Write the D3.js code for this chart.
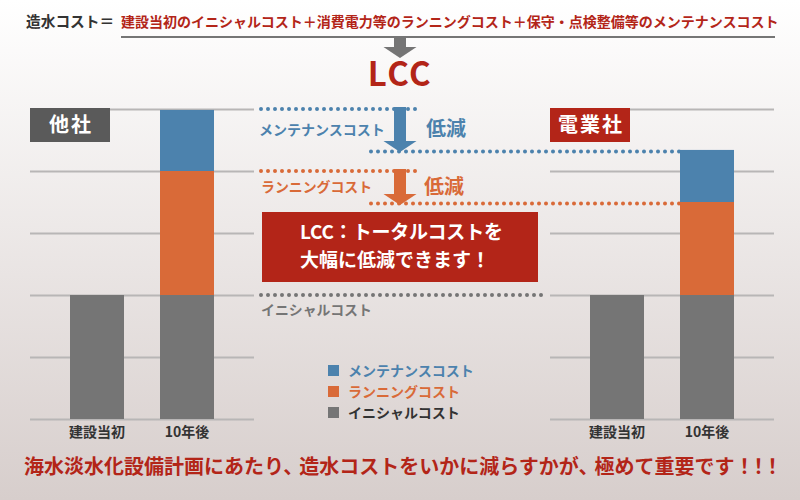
<!DOCTYPE html>
<html lang="ja"><head><meta charset="utf-8">
<script src="https://cdn.jsdelivr.net/npm/d3@7/dist/d3.min.js"></script>
<style>
html,body{margin:0;padding:0;background:#fff}
svg{display:block}
text{font-family:"Noto Sans CJK JP","Noto Sans",sans-serif;font-weight:700}
</style></head><body><svg id="c" width="800" height="500"></svg>
<script>
const categories = ["建設当初","10年後"];
const seriesNames = ["イニシャルコスト","ランニングコスト","メンテナンスコスト"];
const initialOther = [40,40];
const runningOther = [0,40];
const maintOther = [0,19.7];
const initialOurs = [40,40];
const runningOurs = [0,30];
const maintOurs = [0,16.8];
const yTicks = [0,20,40,60,80,100];
const seriesColors = ["#757575","#d96a38","#4c82ad"];
const RED = "#b32518";

const svg = d3.select("#c");
const defs = svg.append("defs");
const g = defs.append("linearGradient").attr("id","bg").attr("x1",0).attr("x2",0).attr("y1",0).attr("y2",1);
g.append("stop").attr("offset",0).attr("stop-color","#ffffff");
g.append("stop").attr("offset",1).attr("stop-color","#d7cecc");
svg.append("rect").attr("width",800).attr("height",500).attr("fill","url(#bg)");

const y = d3.scaleLinear().domain([0,100]).range([419,109]);

function panel(x0, x1, bandStart, a, b, c, tag, tagColor){
  const x = d3.scaleBand().domain(categories).range([bandStart, bandStart+180]).paddingInner(0.4).paddingOuter(0.2);
  const grid = svg.append("g").attr("transform",`translate(${x0},0)`)
    .call(d3.axisLeft(y).tickValues(yTicks).tickSize(-(x1-x0)).tickFormat(""));
  grid.select(".domain").remove();
  grid.selectAll("line").attr("stroke","#b8b6b6").attr("stroke-width",2);

  const rows = categories.map((cat,i)=>({cat, s0:a[i], s1:b[i], s2:c[i]}));
  const stack = d3.stack().keys(["s0","s1","s2"])(rows);
  svg.append("g").selectAll("g").data(stack).join("g").attr("fill",(d,i)=>seriesColors[i])
    .selectAll("rect").data(d=>d.map(v=>({v,cat:v.data.cat}))).join("rect")
    .attr("x",d=>x(d.cat)).attr("width",x.bandwidth())
    .attr("y",d=>y(d.v[1])).attr("height",d=>y(d.v[0])-y(d.v[1]));

  const ax = svg.append("g").attr("transform","translate(0,420)").call(d3.axisBottom(x).tickSize(0).tickPadding(7));
  ax.select(".domain").remove();
  ax.selectAll("text").attr("fill","#333").style("font-size","14px").style("font-family",'"Noto Sans CJK JP"').style("font-weight",700);

  svg.append("rect").attr("x",x0).attr("y",108).attr("width",80).attr("height",34).attr("fill",tagColor);
  svg.append("text").attr("x",x0+41).attr("y",132).attr("text-anchor","middle").attr("fill","#fff")
    .attr("font-size",20).attr("letter-spacing",2).text(tag);
  return x;
}
panel(30,254,52,initialOther,runningOther,maintOther,"他社","#5a5a5a");
panel(550,774,572,initialOurs,runningOurs,maintOurs,"電業社",RED);

function label(x,yy,t,size,fill,anchor){
  return svg.append("text").attr("x",x).attr("y",yy).attr("font-size",size).attr("fill",fill)
    .attr("text-anchor",anchor||"start").text(t);
}
function dots(x1,x2,yy,color){
  svg.append("line").attr("x1",x1).attr("x2",x2).attr("y1",yy).attr("y2",yy)
    .attr("stroke",color).attr("stroke-width",4).attr("stroke-linecap","round").attr("stroke-dasharray","0 7");
}
function arrow(cx,top,bottom,color){
  const p = d3.path();
  p.moveTo(cx-6,top);p.lineTo(cx+6,top);p.lineTo(cx+6,bottom-11);p.lineTo(cx+16.5,bottom-11);
  p.lineTo(cx,bottom);p.lineTo(cx-16.5,bottom-11);p.lineTo(cx-6,bottom-11);p.closePath();
  svg.append("path").attr("d",p.toString()).attr("fill",color);
}

const totalOther0 = 100;
const totalOther1 = initialOther[1]+runningOther[1];
const totalOurs0 = initialOurs[1]+runningOurs[1]+maintOurs[1];
const totalOurs1 = initialOurs[1]+runningOurs[1];

dots(261,420,y(totalOther0),seriesColors[2]);
dots(371,680,y(totalOurs0)+1.7,seriesColors[2]);
dots(261,420,y(totalOther1),seriesColors[1]);
dots(371,680,y(totalOurs1)+1.5,seriesColors[1]);
dots(261,542,y(initialOther[1]),seriesColors[0]);

arrow(400,107,152,seriesColors[2]);
arrow(400,169,205,seriesColors[1]);

label(259,135,seriesNames[2],14,seriesColors[2]);
label(261,192,seriesNames[1],13.9,seriesColors[1]);
label(261,315,seriesNames[0],13.9,seriesColors[0]);
label(426,136,"低減",20,seriesColors[2]);
label(424,194,"低減",20,seriesColors[1]);

svg.append("rect").attr("x",262).attr("y",212).attr("width",276).attr("height",70).attr("fill",RED);
label(300,239,"LCC：トータルコストを",19,"#fff").attr("textLength",203);
label(300,267,"大幅に低減できます！",19,"#fff");

// header
label(26,27,"造水コスト＝",14.7,"#333");
label(121,27,"建設当初のイニシャルコスト＋消費電力等のランニングコスト＋保守・点検整備等のメンテナンスコスト",14,RED);
svg.append("line").attr("x1",121).attr("x2",775).attr("y1",37).attr("y2",37).attr("stroke","#757575").attr("stroke-width",2);
arrow(400,38,58,"#757575");
label(400,86,"LCC",33,RED,"middle").attr("letter-spacing",1.5);

// legend
const legendY = d3.scalePoint().domain(seriesNames.slice().reverse()).range([370.5,412.5]);
const legendText = {[seriesNames[2]]:seriesColors[2],[seriesNames[1]]:seriesColors[1],[seriesNames[0]]:"#333"};
seriesNames.forEach((n,i)=>{
  svg.append("rect").attr("x",328).attr("y",legendY(n)-5.5).attr("width",11).attr("height",11).attr("fill",seriesColors[i]);
  label(348,legendY(n)+5,n,14,legendText[n]);
});

const footerParts = ["海水淡水化設備計画にあたり、","造水コストをいかに減らすかが、","極めて重要です","！！！"];
const footerGaps = [0,-4,-4,0];
const footerSpacing = [0,0,0,-6];
const footer = svg.append("text").attr("x",24).attr("y",474).attr("font-size",20).attr("fill",RED);
footer.selectAll("tspan").data(footerParts).join("tspan")
  .attr("dx",(d,i)=>footerGaps[i]).attr("letter-spacing",(d,i)=>footerSpacing[i]).text(d=>d);
</script></body></html>
